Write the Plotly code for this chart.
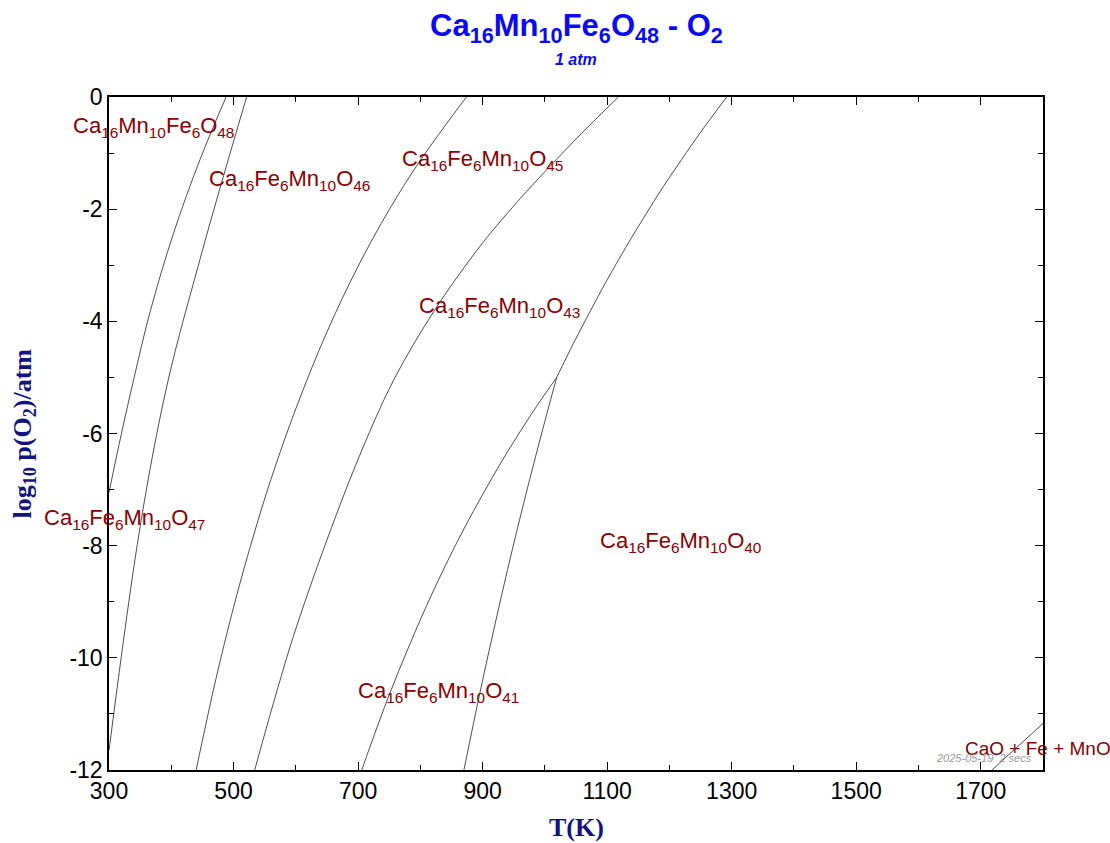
import plotly.graph_objects as go

# ---------------- data ----------------
# phase-boundary curves: temperature T (K) and log10 p(O2)
b48_47_T = [300, 320, 340, 366, 403, 446, 488]
b48_47_L = [-7.05, -6.0, -5.02, -3.83, -2.45, -1.12, 0.0]

b47_46_T = [300, 350, 394, 446, 481, 521]
b47_46_L = [-11.65, -7.66, -5.10, -2.90, -1.52, 0.0]

b46_45_T = [440, 470, 500, 530, 560, 600, 650, 700, 750, 800, 874]
b46_45_L = [-12.0, -10.46, -9.10, -7.90, -6.82, -5.56, -4.19, -3.02, -2.01, -1.13, 0.0]

b45_43_T = [534, 564, 596, 644, 700, 757, 823, 885, 917, 971, 1050, 1118]
b45_43_L = [-12.0, -10.81, -9.62, -8.08, -6.46, -5.05, -3.80, -2.82, -2.37, -1.68, -0.75, 0.0]

b43_40_T = [1019, 1046, 1070, 1100, 1130, 1160, 1190, 1220, 1250, 1292]
b43_40_L = [-5.0, -4.39, -3.88, -3.26, -2.68, -2.13, -1.60, -1.11, -0.63, 0.0]

b43_41_T = [1019, 990, 960, 930, 900, 870, 840, 810, 780, 750, 720, 706]
b43_41_L = [-5.0, -5.46, -5.97, -6.51, -7.09, -7.70, -8.36, -9.07, -9.84, -10.66, -11.56, -12.0]

b41_40_T = [1019, 1000, 980, 960, 940, 920, 900, 885, 870]
b41_40_L = [-5.0, -5.78, -6.63, -7.51, -8.43, -9.40, -10.40, -11.19, -12.0]

bCaO_T = [1718, 1800]
bCaO_L = [-12.0, -11.17]

curves = [
    (b48_47_T, b48_47_L), (b47_46_T, b47_46_L), (b46_45_T, b46_45_L),
    (b45_43_T, b45_43_L), (b43_40_T, b43_40_L), (b43_41_T, b43_41_L),
    (b41_40_T, b41_40_L), (bCaO_T, bCaO_L),
]

# phase labels: text, T of left edge, log p(O2) of centre, font size
phase_text = [
    "Ca<sub>16</sub>Mn<sub>10</sub>Fe<sub>6</sub>O<sub>48</sub>",
    "Ca<sub>16</sub>Fe<sub>6</sub>Mn<sub>10</sub>O<sub>46</sub>",
    "Ca<sub>16</sub>Fe<sub>6</sub>Mn<sub>10</sub>O<sub>45</sub>",
    "Ca<sub>16</sub>Fe<sub>6</sub>Mn<sub>10</sub>O<sub>43</sub>",
    "Ca<sub>16</sub>Fe<sub>6</sub>Mn<sub>10</sub>O<sub>47</sub>",
    "Ca<sub>16</sub>Fe<sub>6</sub>Mn<sub>10</sub>O<sub>40</sub>",
    "Ca<sub>16</sub>Fe<sub>6</sub>Mn<sub>10</sub>O<sub>41</sub>",
    "CaO + Fe + MnO",
]
phase_T = [239, 457, 768, 794, 193, 1085, 696, 1671]
phase_L = [-0.53, -1.48, -1.12, -3.75, -7.53, -7.94, -10.61, -11.61]
phase_size = [22, 22, 22, 22, 22, 22, 22, 19]

x_ticks = [300, 500, 700, 900, 1100, 1300, 1500, 1700]
y_ticks = [0, -2, -4, -6, -8, -10, -12]
X_RANGE = [300, 1800]
Y_RANGE = [-12, 0]

# ---------------- figure ----------------
fig = go.Figure()
for T, L in curves:
    fig.add_trace(go.Scatter(x=T, y=L, mode="lines", line_shape="spline",
                             line=dict(color="#222222", width=0.8),
                             hoverinfo="skip", showlegend=False))

LABEL_RED = "#8B0000"
for txt, t, l, s in zip(phase_text, phase_T, phase_L, phase_size):
    fig.add_annotation(x=(t - X_RANGE[0]) / (X_RANGE[1] - X_RANGE[0]),
                       y=(l - Y_RANGE[0]) / (Y_RANGE[1] - Y_RANGE[0]),
                       xref="paper", yref="paper", text=txt, showarrow=False,
                       xanchor="left", yanchor="middle",
                       font=dict(family="Liberation Sans, Arial", size=s, color=LABEL_RED))

# title, subtitle
fig.add_annotation(x=0.5, y=1.1025, xref="paper", yref="paper",
                   text="<b>Ca<sub>16</sub>Mn<sub>10</sub>Fe<sub>6</sub>O<sub>48</sub> - O<sub>2</sub></b>",
                   showarrow=False, xanchor="center", yanchor="middle",
                   font=dict(family="Liberation Sans, Arial", size=31, color="#0A0AF5"))
fig.add_annotation(x=0.5, y=1.055, xref="paper", yref="paper",
                   text="<b><i>1 atm</i></b>", showarrow=False,
                   xanchor="center", yanchor="middle",
                   font=dict(family="Liberation Sans, Arial", size=16, color="#0A0AF5"))
# axis titles
fig.add_annotation(x=0.5, y=-0.086, xref="paper", yref="paper",
                   text="<b>T(K)</b>", showarrow=False,
                   xanchor="center", yanchor="middle",
                   font=dict(family="Liberation Serif, Times New Roman", size=26, color="#141480"))
fig.add_annotation(x=-0.092, y=0.5, xref="paper", yref="paper",
                   text="<b>log<sub>10</sub> p(O<sub>2</sub>)/atm</b>", showarrow=False,
                   textangle=-90, xanchor="center", yanchor="middle",
                   font=dict(family="Liberation Serif, Times New Roman", size=26, color="#141480"))
# time stamp
fig.add_annotation(x=0.99, y=0.018, xref="paper", yref="paper",
                   text="<i>2025-05-19  2 secs</i>", showarrow=False,
                   xanchor="right", yanchor="middle",
                   font=dict(family="Liberation Sans, Arial", size=11, color="#9a9a9a"))

axis_common = dict(showline=True, linecolor="black", linewidth=1.5, mirror="ticks",
                   ticks="inside", ticklen=8, tickwidth=1.2, tickcolor="black",
                   showgrid=False, zeroline=False,
                   tickfont=dict(family="Liberation Sans, Arial", size=23, color="black"))

fig.update_xaxes(range=X_RANGE, tickvals=x_ticks, ticktext=[str(v) for v in x_ticks],
                 minor=dict(dtick=100, tick0=300, ticks="inside", ticklen=5,
                            tickwidth=1.2, tickcolor="black"),
                 **axis_common)
fig.update_yaxes(range=Y_RANGE, tickvals=y_ticks, ticktext=[str(v) for v in y_ticks],
                 minor=dict(dtick=1, tick0=0, ticks="inside", ticklen=5,
                            tickwidth=1.2, tickcolor="black"),
                 **axis_common)

fig.update_layout(width=1110, height=843,
                  margin=dict(l=109, r=67, t=97, b=73, autoexpand=False),
                  plot_bgcolor="white", paper_bgcolor="white",
                  showlegend=False)

fig.write_html("out.html", config={"displayModeBar": False},
               post_script="document.body.style.margin='0';")
